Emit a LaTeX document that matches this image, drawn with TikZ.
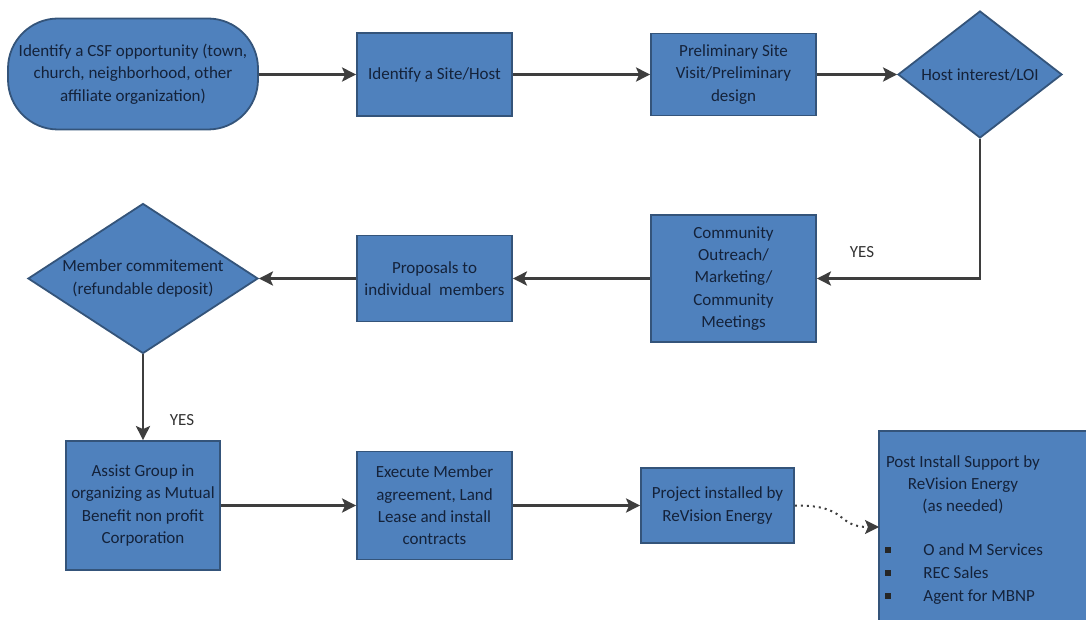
\documentclass[tikz,border=0pt]{standalone}
\usepackage{fontspec}
\setmainfont{Carlito}
\usetikzlibrary{shapes.geometric,arrows.meta}
\definecolor{boxfill}{RGB}{79,129,189}
\definecolor{boxline}{RGB}{52,84,122}
\definecolor{txt}{RGB}{20,34,58}
\definecolor{conn}{RGB}{62,62,62}
\tikzset{
  base/.style={draw=boxline, fill=boxfill, line width=0.9pt, text=txt, align=center,
    font=\fontsize{8.5}{11.2}\selectfont, inner sep=1pt},
  proc/.style={base, rectangle},
  term/.style={base, rectangle, rounded corners=25pt},
  dec/.style={base, diamond, aspect=1.6, inner sep=0pt},
  edge/.style={draw=boxline, line width=0.9pt},
  flow/.style={draw=conn, line width=1.4pt, -{Stealth[length=7pt,width=7pt,inset=1.5pt]}},
  dotflow/.style={draw=conn, line width=1pt, dotted, -{Stealth[length=7pt,width=7pt,inset=1.5pt]}},
  yes/.style={text=black!80, font=\fontsize{8.5}{11}\selectfont},
  itemtxt/.style={text=txt, font=\fontsize{8.5}{11}\selectfont, inner sep=0pt, anchor=base west},
}
\begin{document}
\begin{tikzpicture}[x=0.5pt,y=-0.5pt]
\useasboundingbox (0,0) rectangle (1086,620);
% nodes
\node[term, minimum width=125pt, minimum height=55.5pt] (csf) at (133,74)
  {Identify a CSF opportunity (town,\\church, neighborhood, other\\affiliate organization)};
\node[proc, minimum width=77.5pt, minimum height=41.5pt] (site) at (434.5,74.5) {Identify a Site/Host};
\node[proc, minimum width=82.5pt, minimum height=41pt] (prelim) at (733.5,74.5)
  {Preliminary Site\\Visit/Preliminary\\design};
\node[dec, minimum width=82pt, minimum height=63.5pt] (host) at (980,74.5) {Host interest/LOI};
\node[proc, minimum width=82.5pt, minimum height=63.5pt] (outreach) at (733.5,278.5)
  {Community\\Outreach/\\Marketing/\\Community\\Meetings};
\node[proc, minimum width=77.5pt, minimum height=43pt] (prop) at (434.5,278.5)
  {Proposals to\\individual\ \ members};
\node[dec, minimum width=115pt, minimum height=75pt] (member) at (143,278.5)
  {Member commitement\\(refundable deposit)};
\node[proc, minimum width=77pt, minimum height=64.5pt] (assist) at (143,505.5)
  {Assist Group in\\organizing as Mutual\\Benefit non profit\\Corporation};
\node[proc, minimum width=77.5pt, minimum height=54pt] (exec) at (434.5,505.5)
  {Execute Member\\agreement, Land\\Lease and install\\contracts};
\node[proc, minimum width=76.5pt, minimum height=37.5pt] (proj) at (717.5,505.5)
  {Project installed by\\ReVision Energy};
% post-install box runs off the right and bottom edges of the picture
\node[proc, draw=none, minimum width=103.5pt, minimum height=94.5pt, anchor=north west] (post) at (879,431) {};
\draw[edge] (post.south west) |- (post.north east);
\node[text=txt, font=\fontsize{8.5}{11}\selectfont, align=center, anchor=north] (posttxt) at (963,449)
  {Post Install Support by\\ReVision Energy\\(as needed)};
\coordinate (postin) at (879,527);
\foreach \i/\t/\y in {1/O and M Services/555, 2/REC Sales/578, 3/Agent for MBNP/601}{
  \node[itemtxt] (item\i) at (923,\y) {\t};
  \node[fill=black!85, inner sep=0pt, minimum width=3pt, minimum height=3.2pt] (bul\i) at (888,\y-5) {};
}
% labels
\node[yes] (yes1) at (862,252) {YES};
\node[yes] (yes2) at (182,420) {YES};
% connectors
\draw[flow] (csf.east |- site.west) -- (site.west);
\draw[flow] (site) -- (prelim);
\draw[flow] (prelim) -- (host);
\draw[flow] (host.south) |- (outreach.east);
\draw[flow] (outreach) -- (prop);
\draw[flow] (prop) -- (member);
\draw[flow] (member.south) -- (assist.north);
\draw[flow] (assist) -- (exec);
\draw[flow] (exec) -- (proj);
\draw[dotflow] (proj.east) .. controls (850,505) and (835,527) .. (postin);
\end{tikzpicture}
\end{document}
